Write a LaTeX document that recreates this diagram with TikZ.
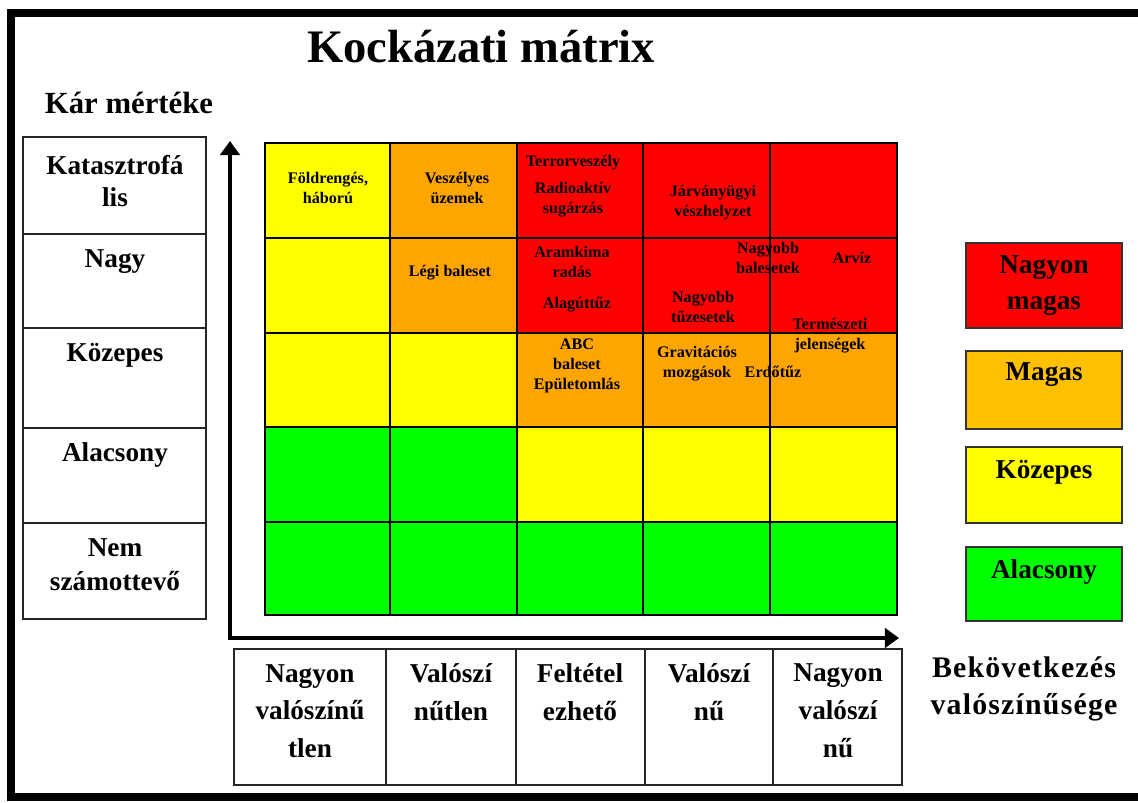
\documentclass[tikz,border=0pt]{standalone}
\usepackage{fontspec}
\setmainfont{Liberation Serif}
\usetikzlibrary{arrows.meta}
\definecolor{r255g0b0}{rgb}{1.000000,0.000000,0.000000}
\definecolor{r255g165b0}{rgb}{1.000000,0.647059,0.000000}
\definecolor{r255g192b0}{rgb}{1.000000,0.752941,0.000000}
\definecolor{r255g255b0}{rgb}{1.000000,1.000000,0.000000}
\definecolor{r0g255b0}{rgb}{0.000000,1.000000,0.000000}
\tikzset{
  cellbox/.style={line width=1.6pt, draw=black},
  labelbox/.style={line width=0.6pt, draw=black!85},
  legendbox/.style={line width=1.1pt, draw=black!80},
  axisarrow/.style={line width=2.4pt, -{Triangle[length=8pt,width=11pt]}},
  celltext/.style={font=\fontsize{9.2}{11.5}\selectfont\bfseries, align=center, inner sep=0pt},
  bigtext/.style={font=\fontsize{15.5}{20.5}\selectfont\bfseries, align=center, inner sep=0pt},
}
\begin{document}
\begin{tikzpicture}[x=0.02cm,y=-0.02cm]
\useasboundingbox (0,0) rectangle (1138,803);
{\bfseries

% Drawing frame
\draw [line width=4.5pt] (11.000000,13.000000) rectangle (1150.000000,797.000000);%

% Marking title
\node [inner sep=0pt, font=\fontsize{26.5}{30}\selectfont\bfseries] (title) at (481.000000,47.000000) {Kockázati mátrix};%
\node [inner sep=0pt, font=\fontsize{17.5}{20}\selectfont\bfseries] (karlabel) at (129.000000,103.000000) {Kár mértéke};%

% Drawing row 1 (Katasztrofális)
\draw [cellbox, fill=r255g255b0] (265.000000,143.000000) rectangle (390.000000,238.000000);%
\draw [cellbox, fill=r255g165b0] (390.000000,143.000000) rectangle (517.000000,238.000000);%
\draw [cellbox, fill=r255g0b0] (517.000000,143.000000) rectangle (643.000000,238.000000);%
\draw [cellbox, fill=r255g0b0] (643.000000,143.000000) rectangle (770.000000,238.000000);%
\draw [cellbox, fill=r255g0b0] (770.000000,143.000000) rectangle (897.000000,238.000000);%

% Drawing row 2 (Nagy)
\draw [cellbox, fill=r255g255b0] (265.000000,238.000000) rectangle (390.000000,333.000000);%
\draw [cellbox, fill=r255g165b0] (390.000000,238.000000) rectangle (517.000000,333.000000);%
\draw [cellbox, fill=r255g0b0] (517.000000,238.000000) rectangle (643.000000,333.000000);%
\draw [cellbox, fill=r255g0b0] (643.000000,238.000000) rectangle (770.000000,333.000000);%
\draw [cellbox, fill=r255g0b0] (770.000000,238.000000) rectangle (897.000000,333.000000);%

% Drawing row 3 (Kozepes)
\draw [cellbox, fill=r255g255b0] (265.000000,333.000000) rectangle (390.000000,427.000000);%
\draw [cellbox, fill=r255g255b0] (390.000000,333.000000) rectangle (517.000000,427.000000);%
\draw [cellbox, fill=r255g165b0] (517.000000,333.000000) rectangle (643.000000,427.000000);%
\draw [cellbox, fill=r255g165b0] (643.000000,333.000000) rectangle (770.000000,427.000000);%
\draw [cellbox, fill=r255g165b0] (770.000000,333.000000) rectangle (897.000000,427.000000);%

% Drawing row 4 (Alacsony)
\draw [cellbox, fill=r0g255b0] (265.000000,427.000000) rectangle (390.000000,522.000000);%
\draw [cellbox, fill=r0g255b0] (390.000000,427.000000) rectangle (517.000000,522.000000);%
\draw [cellbox, fill=r255g255b0] (517.000000,427.000000) rectangle (643.000000,522.000000);%
\draw [cellbox, fill=r255g255b0] (643.000000,427.000000) rectangle (770.000000,522.000000);%
\draw [cellbox, fill=r255g255b0] (770.000000,427.000000) rectangle (897.000000,522.000000);%

% Drawing row 5 (Nem szamottevo)
\draw [cellbox, fill=r0g255b0] (265.000000,522.000000) rectangle (390.000000,615.000000);%
\draw [cellbox, fill=r0g255b0] (390.000000,522.000000) rectangle (517.000000,615.000000);%
\draw [cellbox, fill=r0g255b0] (517.000000,522.000000) rectangle (643.000000,615.000000);%
\draw [cellbox, fill=r0g255b0] (643.000000,522.000000) rectangle (770.000000,615.000000);%
\draw [cellbox, fill=r0g255b0] (770.000000,522.000000) rectangle (897.000000,615.000000);%

% Marking events
\node [celltext] (foldrenges) at (328.000000,188.000000) {Földrengés,\\háború};%
\node [celltext] (veszelyes) at (457.000000,188.000000) {Veszélyes\\üzemek};%
\node [celltext] (terror) at (573.000000,163.000000) {Terrorveszély};%
\node [celltext] (radioaktiv) at (573.000000,200.000000) {Radioaktív\\sugárzás};%
\node [celltext] (jarvany) at (713.000000,203.000000) {Járványügyi\\vészhelyzet};%
\node [celltext] (legi) at (450.000000,273.000000) {Légi baleset};%
\node [celltext] (aram) at (572.000000,262.000000) {Aramkima\\radás};%
\node [celltext] (alagut) at (577.000000,305.000000) {Alagúttűz};%
\node [celltext] (nbaleset) at (768.000000,258.000000) {Nagyobb\\balesetek};%
\node [celltext] (arviz) at (852.000000,258.000000) {Arvíz};%
\node [celltext] (ntuz) at (703.000000,307.000000) {Nagyobb\\tűzesetek};%
\node [celltext] (termeszeti) at (830.000000,336.000000) {Természeti\\jelenségek};%
\node [celltext] (abc) at (577.000000,366.000000) {ABC\\baleset\\Epületomlás};%
\node [celltext] (gravitacios) at (697.000000,364.000000) {Gravitációs\\mozgások};%
\node [celltext] (erdotuz) at (773.000000,372.000000) {Erdőtűz};%

% Drawing axes
\coordinate (origin) at (230.000000,638.000000);%
\coordinate (ytip) at (230.000000,141.000000);%
\coordinate (xtip) at (899.000000,638.000000);%
\draw [axisarrow] (origin) -- (ytip);%
\draw [axisarrow] ([xshift=-1.2pt]origin) -- (xtip);%

% Drawing severity boxes
\draw [labelbox] (23.000000,137.000000) rectangle (206.000000,234.000000);%
\draw [labelbox] (23.000000,234.000000) rectangle (206.000000,328.000000);%
\draw [labelbox] (23.000000,328.000000) rectangle (206.000000,428.000000);%
\draw [labelbox] (23.000000,428.000000) rectangle (206.000000,523.000000);%
\draw [labelbox] (23.000000,523.000000) rectangle (206.000000,619.000000);%
\node [bigtext, font=\fontsize{15.5}{18.5}\selectfont\bfseries] (katasztrofalis) at (115.000000,181.000000) {Katasztrofá\\lis};%
\node [bigtext] (nagy) at (115.000000,262.000000) {Nagy};%
\node [bigtext] (kozepes) at (115.000000,355.000000) {Közepes};%
\node [bigtext] (alacsony) at (115.000000,455.000000) {Alacsony};%
\node [bigtext, font=\fontsize{15.5}{19.5}\selectfont\bfseries] (nemszamottevo) at (115.000000,565.000000) {Nem\\számottevő};%

% Drawing probability boxes
\draw [labelbox] (234.000000,649.000000) rectangle (386.000000,785.000000);%
\draw [labelbox] (386.000000,649.000000) rectangle (516.000000,785.000000);%
\draw [labelbox] (516.000000,649.000000) rectangle (645.000000,785.000000);%
\draw [labelbox] (645.000000,649.000000) rectangle (773.000000,785.000000);%
\draw [labelbox] (773.000000,649.000000) rectangle (902.000000,785.000000);%
\node [bigtext, font=\fontsize{15.5}{21.5}\selectfont\bfseries] (nvalotlan) at (310.000000,711.000000) {Nagyon\\valószínű\\tlen};%
\node [bigtext, font=\fontsize{15.5}{21.5}\selectfont\bfseries] (valotlan) at (451.000000,692.000000) {Valószí\\nűtlen};%
\node [bigtext, font=\fontsize{15.5}{21.5}\selectfont\bfseries] (feltetelezheto) at (580.000000,692.000000) {Feltétel\\ezhető};%
\node [bigtext, font=\fontsize{15.5}{21.5}\selectfont\bfseries] (valoszinu) at (709.000000,692.000000) {Valószí\\nű};%
\node [bigtext, font=\fontsize{15.5}{21.5}\selectfont\bfseries] (nvaloszinu) at (838.000000,711.000000) {Nagyon\\valószí\\nű};%
\node [bigtext, font=\fontsize{17}{21.5}\selectfont\bfseries\addfontfeatures{LetterSpace=4}] (bekovetkezes) at (1024.000000,689.000000) {Bekövetkezés\\valószínűsége};%

% Drawing legend
\draw [legendbox, fill=r255g0b0] (966.000000,243.000000) rectangle (1122.000000,328.000000);%
\draw [legendbox, fill=r255g192b0] (966.000000,351.000000) rectangle (1122.000000,429.000000);%
\draw [legendbox, fill=r255g255b0] (966.000000,447.000000) rectangle (1122.000000,523.000000);%
\draw [legendbox, fill=r0g255b0] (966.000000,547.000000) rectangle (1122.000000,621.000000);%
\node [bigtext] (nagyonmagas) at (1044.000000,286.000000) {Nagyon\\magas};%
\node [bigtext] (magas) at (1044.000000,375.000000) {Magas};%
\node [bigtext] (legkozepes) at (1044.000000,472.000000) {Közepes};%
\node [bigtext] (legalacsony) at (1044.000000,572.000000) {Alacsony};%
}
\end{tikzpicture}
\end{document}
